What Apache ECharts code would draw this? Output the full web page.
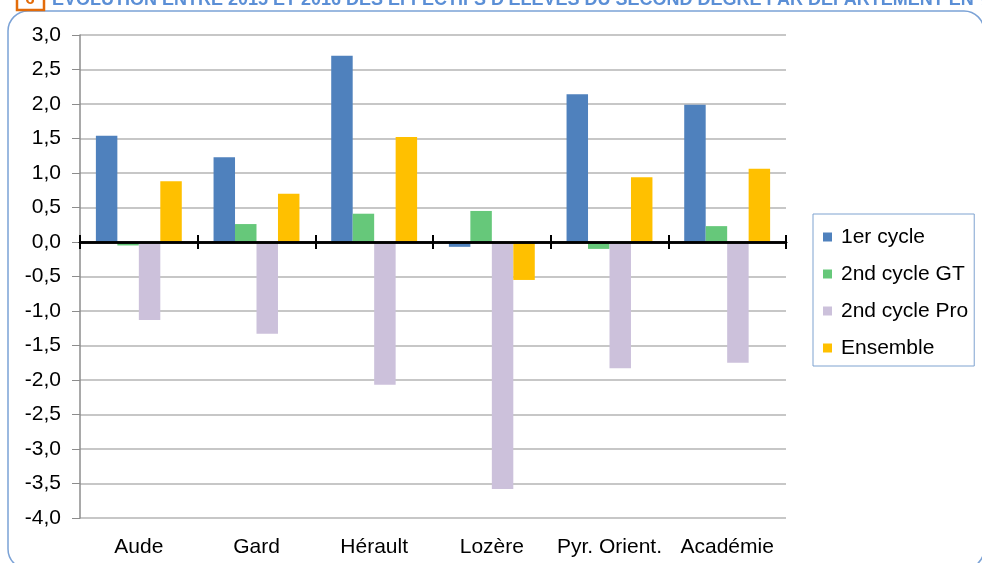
<!DOCTYPE html>
<html>
<head>
<meta charset="utf-8">
<script src="https://cdn.jsdelivr.net/npm/echarts@6/dist/echarts.min.js"></script>
<style>
  html, body { margin: 0; padding: 0; background: #fff; }
  #chart { width: 982px; height: 563px; }
</style>
</head>
<body>
<div id="chart"></div>
<script>
const titleText = "ÉVOLUTION ENTRE 2015 ET 2016 DES EFFECTIFS D'ÉLÈVES DU SECOND DEGRÉ PAR DÉPARTEMENT EN %"
const categories = ['Aude', 'Gard', 'Hérault', 'Lozère', 'Pyr. Orient.', 'Académie']
const premierCycle = [1.54, 1.23, 2.70, -0.07, 2.14, 1.99]
const secondCycleGT = [-0.05, 0.26, 0.41, 0.45, -0.10, 0.23]
const secondCyclePro = [-1.13, -1.33, -2.07, -3.58, -1.83, -1.75]
const ensemble = [0.88, 0.70, 1.52, -0.55, 0.94, 1.06]

const fontFamily = '"Liberation Sans", Arial, sans-serif'
const chart = echarts.init(document.getElementById('chart'))

function makeSeries(name, data, color) {
  return {
    name: name,
    type: 'bar',
    data: data,
    xAxisIndex: 0,
    yAxisIndex: 0,
    barGap: '0%',
    barCategoryGap: '27%',
    itemStyle: { color: color },
    animation: false
  }
}

// y axis settings shared by the visible axis and the hidden one used for the top x axis
const yRange = { type: 'value', min: -4, max: 3, interval: 0.5 }

chart.setOption({
  backgroundColor: '#fff',
  textStyle: { fontFamily: fontFamily },
  graphic: [
    {
      type: 'rect',
      shape: { x: 8, y: 11, width: 976, height: 558, r: 20 },
      style: { fill: 'none', stroke: '#7BA2D6', lineWidth: 1.5 },
      z: -1
    },
    {
      type: 'rect',
      shape: { x: 17, y: -8, width: 27, height: 18 },
      style: { fill: '#fff', stroke: '#E36C0A', lineWidth: 2.5 }
    },
    {
      type: 'text',
      x: 30, y: -9,
      style: { text: '6', fill: '#E36C0A', font: 'bold 17px ' + fontFamily, align: 'center' }
    },
    {
      type: 'text',
      x: 52, y: -9,
      style: { text: titleText, fill: '#5B8FD6', font: 'bold 18px ' + fontFamily }
    }
  ],
  grid: {
    left: 80,
    right: 196,
    top: 35,
    bottom: 45,
    containLabel: false,
    outerBoundsMode: 'none'
  },
  legend: {
    orient: 'vertical',
    left: 813,
    top: 214,
    padding: [11, 6, 6, 10],
    itemGap: 13,
    itemWidth: 9,
    itemHeight: 9,
    borderColor: '#7FA3D0',
    borderWidth: 1,
    icon: 'rect',
    textStyle: { fontSize: 21, color: '#000', lineHeight: 24, padding: [0, 0, 0, 4] },
    data: ['1er cycle', '2nd cycle GT', '2nd cycle Pro', 'Ensemble']
  },
  xAxis: [
    {
      type: 'category',
      data: categories,
      position: 'bottom',
      axisLine: { onZero: true, onZeroAxisIndex: 0, lineStyle: { color: '#000', width: 2.5 } },
      axisTick: { show: true, length: 7, lineStyle: { color: '#000', width: 2 } },
      axisLabel: { margin: 19, interval: 0, fontSize: 21, color: '#000' },
      z: 5
    },
    {
      type: 'category',
      data: categories,
      position: 'top',
      axisLine: { onZero: true, onZeroAxisIndex: 1, lineStyle: { color: '#000', width: 2.5 } },
      axisTick: { show: true, length: 7, lineStyle: { color: '#000', width: 2 } },
      axisLabel: { show: false },
      z: 5
    }
  ],
  yAxis: [
    Object.assign({}, yRange, {
      position: 'left',
      axisLine: { show: true, lineStyle: { color: '#8C8C8C', width: 1.5 } },
      axisTick: { show: true, length: 8, lineStyle: { color: '#8C8C8C' } },
      splitLine: { lineStyle: { color: '#B5B5B5', width: 1.5 } },
      axisLabel: {
        fontSize: 21,
        color: '#000',
        margin: 19,
        formatter: v => v.toFixed(1).replace('.', ',')
      }
    }),
    Object.assign({}, yRange, {
      position: 'right',
      axisLine: { show: false },
      axisTick: { show: false },
      axisLabel: { show: false },
      splitLine: { show: false }
    })
  ],
  series: [
    makeSeries('1er cycle', premierCycle, '#4F81BD'),
    makeSeries('2nd cycle GT', secondCycleGT, '#66C87A'),
    makeSeries('2nd cycle Pro', secondCyclePro, '#CCC1DB'),
    makeSeries('Ensemble', ensemble, '#FFC000')
  ]
})
</script>
</body>
</html>
